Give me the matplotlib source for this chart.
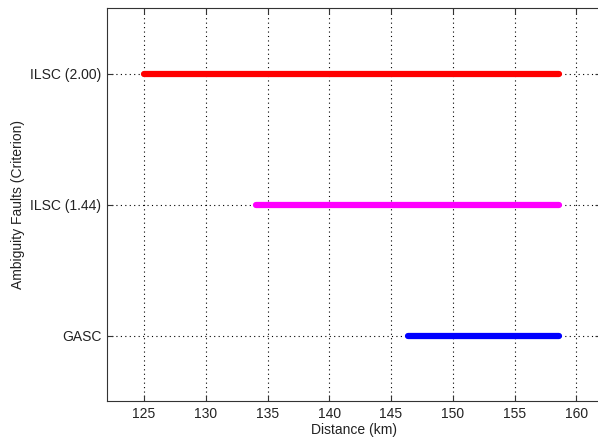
import matplotlib.pyplot as plt

# Datos
categorias = ["GASC", "ILSC (1.44)", "ILSC (2.00)"]
inicio_km = [146.4, 134.1, 125.0]
fin_km = [158.6, 158.6, 158.6]
colores = ["#0000ff", "#ff00ff", "#ff0000"]
ticks_x = [125, 130, 135, 140, 145, 150, 155, 160]

plt.rcParams['font.family'] = ['Liberation Sans', 'DejaVu Sans']

fig = plt.figure(figsize=(5.98, 4.44), dpi=100)
ax = fig.add_axes([107 / 598, 1 - 401 / 444, 494 / 598, 393 / 444])

for i, cat in enumerate(categorias):
    ax.plot([inicio_km[i], fin_km[i]], [i + 1, i + 1], color=colores[i],
            linewidth=4.5, solid_capstyle='round', zorder=3)

ax.set_xlim(122, 162)
ax.set_ylim(0.5, 3.5)
ax.set_xticks(ticks_x)
ax.set_yticks([1, 2, 3])
ax.set_yticklabels(categorias)
ax.grid(True, linestyle=(0, (1, 3)), color='black', linewidth=0.8)
ax.tick_params(direction='in', length=4, labelsize=10, top=True, right=True,
               colors='#333333', labelcolor='#222222', pad=4)
for s in ax.spines.values():
    s.set_color('#333333')
    s.set_linewidth(0.8)

ax.set_xlabel("Distance (km)", fontsize=10, labelpad=2, color='#222222')
ax.set_ylabel("Ambiguity Faults (Criterion)", fontsize=10, labelpad=4, color='#222222')

plt.savefig("out.png", dpi=100)
plt.close()
